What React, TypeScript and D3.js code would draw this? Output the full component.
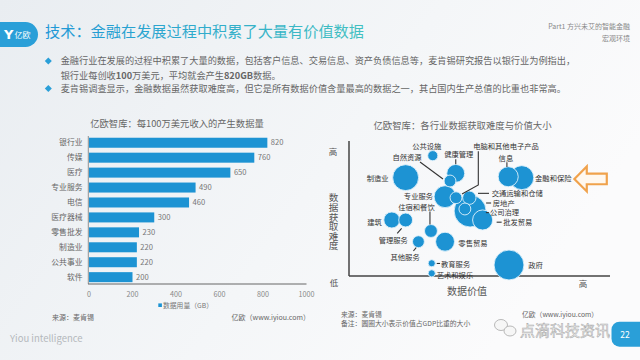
import React from "react";
import * as d3 from "d3";

const FONT = '"Noto Sans CJK SC", "Noto Sans", sans-serif';

// 左图：每100万美元收入产生的数据量（GB）
const barCategories = ["银行业", "传媒", "医疗", "专业服务", "电信", "医疗器械", "零售批发", "制造业", "公共事业", "软件"];
const barValues = [820, 760, 650, 490, 460, 300, 230, 220, 220, 200];
const barTicks = [0, 200, 400, 600, 800, 1000];

// 右图：各行业数据价值(x)、获取难度(y)、占GDP比重(圆大小)
const industries = [
  "公共设施", "制造业", "健康管理", "自然资源", "专业服务", "电脑和其他电子产品", "交通运输和仓储",
  "房地产", "公司治理", "批发贸易", "信息", "金融和保险", "建筑", "管理服务", "住宿和餐饮",
  "零售贸易", "其他服务", "教育服务", "艺术和娱乐", "政府"
];
const dataValue = [32.1, 21.7, 40.9, 38.7, 36.8, 41.0, 46.1, 46.4, 44.4, 51.2, 61.0, 66.2, 16.4, 21.7, 31.4, 36.8, 26.6, 31.7, 31.7, 61.3];
const difficulty = [89.8, 73.4, 76.6, 70.9, 59.2, 58.4, 58.4, 48.5, 50.0, 41.8, 74.1, 73.4, 41.8, 41.8, 33.6, 25.6, 25.6, 9.5, 2.0, 8.2];
const gdpShare = [1.6, 10.5, 5.0, 2.2, 7.5, 2.2, 2.8, 16, 2.2, 6.3, 6.3, 9.0, 4.0, 3.0, 2.6, 5.6, 2.2, 0.8, 0.8, 14];

// 标签相对圆心的位置与引线（布局）
type Lbl = { dx: number; dy: number; anchor: string; line?: [number, number][] };
const labelLayout: Record<string, Lbl> = {
  "公共设施": { dx: -6, dy: -9, anchor: "middle" },
  "制造业": { dx: -17, dy: 0.5, anchor: "end" },
  "健康管理": { dx: 3, dy: -18.5, anchor: "middle", line: [[0, -14], [0, -9]] },
  "自然资源": { dx: -43, dy: -24, anchor: "middle", line: [[-30, -19], [-7, -2]] },
  "专业服务": { dx: -12, dy: -0.5, anchor: "end" },
  "住宿和餐饮": { dx: -14.5, dy: -24, anchor: "middle", line: [[-1, -19.5], [-1, -6.5]] },
  "电脑和其他电子产品": { dx: 50, dy: -51, anchor: "middle", line: [[22.3, -46.5], [22.3, -12.7], [6, -3.7]] },
  "交通运输和仓储": { dx: 22.4, dy: -4.4, anchor: "start", line: [[8.7, -4.4], [19.7, -4.4]] },
  "房地产": { dx: 22.7, dy: -8, anchor: "start", line: [[16, -8], [21, -8]] },
  "公司治理": { dx: 25, dy: 3.6, anchor: "start", line: [[21, 3.6], [24, 3.6]] },
  "批发贸易": { dx: 20.6, dy: 2.2, anchor: "start", line: [[14, 2.2], [19, 2.2]] },
  "信息": { dx: -2.3, dy: -18.4, anchor: "middle", line: [[-1.3, -14.5], [-1.3, -9.7]] },
  "金融和保险": { dx: 13.3, dy: 1.3, anchor: "start" },
  "建筑": { dx: -10, dy: 2.3, anchor: "end" },
  "管理服务": { dx: -12.4, dy: 20, anchor: "middle", line: [[-8.4, 13.3], [-4, 8.3]] },
  "其他服务": { dx: -13.3, dy: 15.6, anchor: "middle", line: [[-5, 9.3], [-2.3, 6]] },
  "零售贸易": { dx: 13.3, dy: 1.6, anchor: "start" },
  "教育服务": { dx: 9.3, dy: 0.7, anchor: "start", line: [[5, 0.2], [8.3, 0.2]] },
  "艺术和娱乐": { dx: 5, dy: 2.4, anchor: "start" },
  "政府": { dx: 19.3, dy: 0, anchor: "start" }
};

const BLUE = "#1d93d3";

const App = () => {
  // ---- bar chart scales ----
  const bx = d3.scaleLinear().domain([0, 1000]).range([89, 306.5]);
  const by = d3.scaleBand<string>().domain(barCategories).range([135.5, 284.4]).paddingInner(0.33).paddingOuter(0.15);

  // ---- bubble chart scales ----
  const sx = d3.scaleLinear().domain([0, 100]).range([349, 610]);
  const sy = d3.scaleLinear().domain([0, 100]).range([276, 142]);
  const sr = d3.scaleSqrt().domain([0, 16]).range([0, 16]);

  const bubbles = industries
    .map((name, i) => ({ name, x: dataValue[i], y: difficulty[i], s: gdpShare[i] }))
    .sort((a, b) => b.s - a.s);

  const fin = bubbles.find(b => b.name === "金融和保险")!;
  const tipX = sx(fin.x) + 52.6;
  const tipY = sy(fin.y) + 1.3;
  const arrow = d3.path();
  arrow.moveTo(tipX, tipY);
  arrow.lineTo(tipX + 12.4, tipY - 12.5);
  arrow.lineTo(tipX + 12.4, tipY - 5.3);
  arrow.lineTo(tipX + 32.4, tipY - 5.3);
  arrow.lineTo(tipX + 32.4, tipY + 5.3);
  arrow.lineTo(tipX + 12.4, tipY + 5.3);
  arrow.lineTo(tipX + 12.4, tipY + 12.5);
  arrow.closePath();

  const line = d3.line();

  return (
    <div style={{ position: "absolute", left: 0, top: 0, width: 640, height: 360 }}>
      <svg width={640} height={360} style={{ display: "block", fontFamily: FONT }}>
        <defs>
          <linearGradient id="bg" x1="0" y1="0" x2="1" y2="0.4">
            <stop offset="0" stopColor="#e9edf1" />
            <stop offset="0.6" stopColor="#f4f6f8" />
            <stop offset="1" stopColor="#fbfbfc" />
          </linearGradient>
          <linearGradient id="titleGrad" gradientUnits="userSpaceOnUse" x1={45} y1={0} x2={378} y2={0}>
            <stop offset="0" stopColor="#1f97d6" />
            <stop offset="1" stopColor="#44c2c0" />
          </linearGradient>
        </defs>
        <rect width={640} height={360} fill="url(#bg)" />

        {/* header */}
        <rect x={-14} y={22} width={52} height={25} rx={12.5} fill="#2a9fd8" />
        <text x={4} y={39} fill="#fff" fontSize={13} fontWeight={700} fontFamily="DejaVu Sans">Y</text>
        <text x={14.5} y={38} fill="#fff" fontSize={8}>亿欧</text>
        <text x={45} y={37} fill="url(#titleGrad)" fontSize={15.2}>技术：金融在发展过程中积累了大量有价值数据</text>
        <text x={630} y={29} textAnchor="end" fill="#888" fontSize={7}>Part1 方兴未艾的智能金融</text>
        <text x={630} y={41} textAnchor="end" fill="#888" fontSize={7}>宏观环境</text>

        {/* bullets */}
        {[61, 88.5].map(y => (
          <path key={y} d={`M48.3,${y - 3.5}L51.8,${y}L48.3,${y + 3.5}L44.8,${y}Z`} fill="#2a9fd8" />
        ))}
        <g fill="#666" fontSize={9.2}>
          <text x={60.7} y={64.3}>金融行业在发展的过程中积累了大量的数据，包括客户信息、交易信息、资产负债信息等，麦肯锡研究报告以银行业为例指出，</text>
          <text x={60.7} y={79.3}>银行业每创收<tspan fontWeight={700}>100</tspan>万美元，平均就会产生<tspan fontWeight={700}>820GB</tspan>数据。</text>
          <text x={60.7} y={91.8}>麦肯锡调查显示，金融数据虽然获取难度高，但它是所有数据价值含量最高的数据之一，其占国内生产总值的比重也非常高。</text>
        </g>

        {/* ---- bar chart ---- */}
        <text x={177} y={127} textAnchor="middle" fill="#666" fontSize={9.3}>亿欧智库：每100万美元收入的产生数据量</text>
        {barCategories.map((c, i) => (
          <g key={c}>
            <rect x={bx(0)} y={by(c)!} width={bx(barValues[i]) - bx(0)} height={by.bandwidth()} fill={BLUE} />
            <text x={82.5} y={by(c)! + by.bandwidth() / 2} dy="0.35em" textAnchor="end" fill="#666" fontSize={7.8}>{c}</text>
            <text x={bx(barValues[i]) + 3.5} y={by(c)! + by.bandwidth() / 2} dy="0.35em" fill="#777" fontSize={7.6}>{barValues[i]}</text>
          </g>
        ))}
        <line x1={88.3} x2={88.3} y1={136} y2={284} stroke="#777" strokeWidth={0.8} />
        <line x1={88} x2={bx(1000)} y1={284} y2={284} stroke="#666" strokeWidth={1} />
        {barTicks.map(t => (
          <text key={t} x={bx(t)} y={297.3} textAnchor="middle" fill="#888" fontSize={7.2}>{t}</text>
        ))}
        <rect x={158.3} y={303.4} width={3.6} height={3.6} fill={BLUE} />
        <text x={163} y={307.8} fill="#777" fontSize={6.8}>数据用量（GB）</text>
        <text x={73} y={320} textAnchor="middle" fill="#666" fontSize={7}>来源：麦肯锡</text>
        <text x={310} y={320} textAnchor="end" fill="#666" fontSize={7}>亿欧（www.iyiou.com）</text>
        <text x={10} y={342} fill="#b4b8bc" fontSize={9.5}>Yiou intelligence</text>

        {/* ---- bubble chart ---- */}
        <text x={462.5} y={129} textAnchor="middle" fill="#666" fontSize={9.4}>亿欧智库：各行业数据获取难度与价值大小</text>
        <line x1={sx(0)} x2={sx(0)} y1={sy(100) - 1} y2={sy(0)} stroke="#444" strokeWidth={1.5} />
        <line x1={sx(0)} x2={sx(100)} y1={sy(0)} y2={sy(0)} stroke="#444" strokeWidth={1.5} />
        <text x={333} y={155} textAnchor="middle" fill="#555" fontSize={8.5}>高</text>
        <text x={334} y={286} textAnchor="middle" fill="#555" fontSize={8.5}>低</text>
        <text x={583} y={287} textAnchor="middle" fill="#555" fontSize={8.5}>高</text>
        <text x={467} y={295} textAnchor="middle" fill="#555" fontSize={10}>数据价值</text>
        <text x={333.5} y={193} fill="#555" fontSize={9.6} style={{ writingMode: "vertical-rl" }}>数据获取难度</text>

        {bubbles.map(b => (
          <circle key={b.name} cx={sx(b.x)} cy={sy(b.y)} r={sr(b.s)} fill={BLUE} stroke="#dff1fb" strokeWidth={0.9} />
        ))}
        {bubbles.map(b => {
          const l = labelLayout[b.name];
          const cx = sx(b.x);
          const cy = sy(b.y);
          return (
            <g key={b.name}>
              {l.line && (
                <path d={line(l.line.map(p => [cx + p[0], cy + p[1]] as [number, number])) || ""} fill="none" stroke="#333" strokeWidth={1.1} />
              )}
              <text x={cx + l.dx} y={cy + l.dy} dy="0.35em" textAnchor={l.anchor} fill="#333" fontSize={7.3}>{b.name}</text>
            </g>
          );
        })}
        <path d={arrow.toString()} fill="#fff8ef" stroke="#f0a24c" strokeWidth={2.2} strokeLinejoin="miter" />

        <text x={341} y={317} fill="#666" fontSize={6.8}>来源：麦肯锡</text>
        <text x={341} y={326} fill="#666" fontSize={6.8}>备注：圆圈大小表示价值占GDP比重的大小</text>
        <text x={522} y={317} fill="#666" fontSize={6.8}>亿欧（www.iyiou.com）</text>

        {/* watermark */}
        <g fill="#f6f6f6" stroke="#a8a8a8" strokeWidth={0.8}>
          <ellipse cx={501} cy={325} rx={6.5} ry={5.5} />
          <ellipse cx={510} cy={331} rx={6} ry={5} />
        </g>
        <text x={520} y={336} fill="#f5f5f5" stroke="#adadad" strokeWidth={0.55} fontSize={15}>点滴科技资讯</text>
        <rect x={611.5} y={321.7} width={45} height={25} rx={8} fill="#2a9fd8" />
        <text x={625} y={337.5} textAnchor="middle" fill="#fff" fontSize={8.5}>22</text>
      </svg>
    </div>
  );
};

export default App;
